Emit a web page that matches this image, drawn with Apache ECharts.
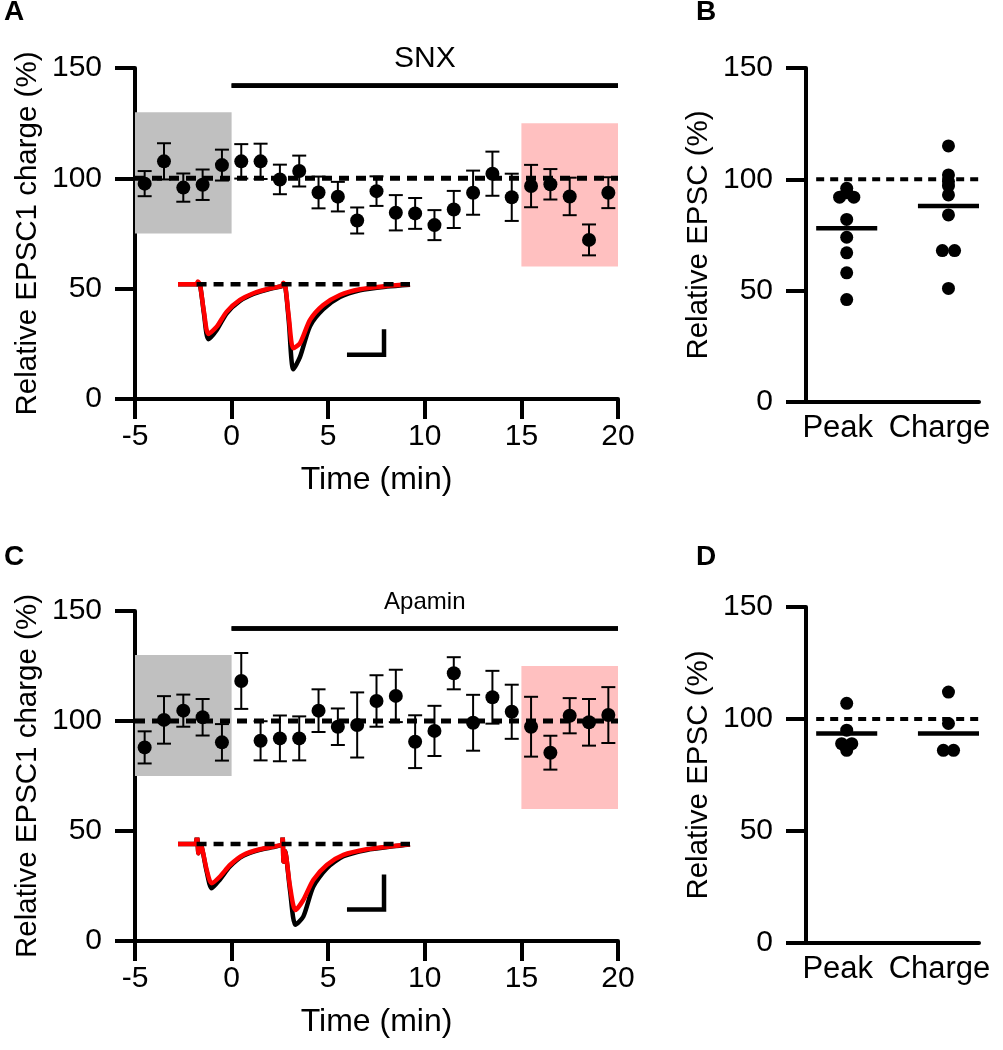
<!DOCTYPE html>
<html>
<head>
<meta charset="utf-8">
<script src="https://cdn.jsdelivr.net/npm/echarts@6/dist/echarts.min.js"></script>
<style>
html, body { margin: 0; background: #fff; }
#chart { width: 1003px; height: 1050px; }
</style>
</head>
<body>
<div id="chart"></div>
<script>
// time course (min), one point per minute
var timeMin = [-4.5, -3.5, -2.5, -1.5, -0.5, 0.5, 1.5, 2.5, 3.5, 4.5, 5.5, 6.5, 7.5,
               8.5, 9.5, 10.5, 11.5, 12.5, 13.5, 14.5, 15.5, 16.5, 17.5, 18.5, 19.5];
var snxMean = [97.6, 107.7, 95.8, 97.1, 106, 107.7, 107.7, 99.5, 103.3, 93.6, 91.7, 80.9, 94.2,
               84.4, 84.1, 78.8, 85.9, 93.5, 102.1, 91.4, 96.5, 97.3, 91.8, 72.1, 93.5];
var snxSem = [5.7, 8.2, 6.4, 6.9, 7, 7.8, 8, 6.7, 7, 7.2, 6.7, 5.9, 6.7,
              8, 7, 6.8, 8.4, 10, 10, 10.7, 9.6, 6.9, 8.5, 7, 7];
var apaMean = [88, 100.5, 104.7, 101.7, 90.3, 118.2, 91, 92.1, 92.1, 104.7, 97.4, 98.2, 109.1,
               111.4, 90.6, 95.5, 121.7, 99.2, 110.8, 104.2, 97.4, 85.6, 102.4, 99.4, 102.7];
var apaSem = [7.3, 10.8, 7.3, 8.3, 8.3, 12.7, 8.9, 10.4, 10, 9.7, 8.3, 14.8, 11.7,
              11.9, 12, 11.4, 7.3, 12.7, 12, 12.3, 13.6, 7.7, 8, 10.6, 12.7];

// shaded windows [tStart, tEnd, low, high] and drug bar [tStart, tEnd, level]
var baselineWin = [-5, 0, 75, 130];
var drugWin = [15, 20, 60, 125];
var drugBar = [0, 20, 142];
var xTicks = [-5, 20];

// scatter panels: individual cells, jitter in group units, group mean
var groupNames = ['Peak', 'Charge'];
var snxPeak = [96, 94, 92, 92, 82, 74, 67, 58, 46];
var snxPeakJit = [0, 0, -0.07, 0.07, 0, 0, 0, 0, 0];
var snxCharge = [115, 102, 99, 97, 93, 84, 68, 68, 51];
var snxChargeJit = [0, 0, 0, 0, 0, 0, -0.06, 0.06, 0];
var snxGroupMean = [78, 88];
var apaPeak = [107, 95, 89, 89, 86];
var apaPeakJit = [0, 0, -0.05, 0.05, 0];
var apaCharge = [112, 98, 86, 86];
var apaChargeJit = [0, 0, -0.05, 0.05];
var apaGroupMean = [93.5, 93.5];

// example traces (ms, normalised current), black = control, red = drug
var trTimeA = [0, 7.8, 8.6, 9.5, 11.2, 13.1, 16.7, 21.0, 26.7, 32.5, 39.7, 44.7, 45.4, 46.3,
               47.8, 49.7, 52.6, 56.9, 62.6, 69.8, 78.4, 90, 100];
var trRedA = [0, 0, 3.3, -0.8, -32.6, -58.5, -49.9, -32.2, -18.5, -10.6, -4.7, -2.0, 1.9, -3.2,
              -39.6, -75.3, -69.4, -42.0, -24.4, -12.6, -5.9, -2.0, 0];
var trBlackA = [0, 0, 0, -0.8, -35, -64.6, -53.8, -34.1, -19.7, -11.5, -5.3, -2.4, -1, -3.5,
                -45, -100, -85.5, -49.4, -29.4, -15.1, -7.2, -2.8, -0.5];
var trTimeC = [0, 7.3, 8.2, 8.8, 9.3, 10.2, 12.4, 14.5, 18.0, 22.4, 28.1, 35.3, 42.5, 44.8, 45.1,
               45.5, 46.1, 48.3, 50.6, 54.0, 58.3, 64.1, 71.3, 81.3, 92.8, 100];
var trRedC = [0, 0, 8.6, -10.9, -1.2, -3.2, -30.6, -46.2, -38.5, -24.7, -12.9, -6.2, -2.4, 0, 8.6,
              -20.8, -8.2, -50.2, -77.6, -65.9, -42.4, -24.7, -12.9, -6.2, -2.4, -0.4];
var trBlackC = [0, 0, 8.6, -10.9, -1.2, -3.2, -33, -52.1, -42, -26.5, -14, -6.8, -2.8, 0, 8.6,
                -20.8, -8.2, -55, -95, -85.4, -50.2, -28.6, -14.5, -7, -2.8, -0.6];
var baseStart = 8;
// scale bars: [t, i, dt, di]
var scaleA = [73.8, -83, 15, 27.4];
var scaleC = [73.8, -77, 15, 38.4];

var FONT = 'Liberation Sans, Arial, sans-serif';

function zip(xs, ys) { return xs.map(function (x, i) { return [x, ys[i]]; }); }

function timeX(g) {
  return {
    type: 'value', gridIndex: g, min: -5, max: 20, interval: 5,
    name: 'Time (min)', nameLocation: 'middle', nameGap: 65,
    nameTextStyle: { fontSize: 32, color: '#000', fontFamily: FONT },
    axisLine: { show: true, onZero: false, lineStyle: { color: '#000', width: 4 } },
    axisTick: { show: true, length: 20, lineStyle: { color: '#000', width: 4 } },
    axisLabel: { margin: 23, fontSize: 30, color: '#000', fontFamily: FONT },
    splitLine: { show: false }
  };
}
function groupX(g) {
  return {
    type: 'value', gridIndex: g, min: -0.4, max: 1.3,
    axisLine: { show: true, onZero: false, lineStyle: { color: '#000', width: 4 } },
    axisTick: { show: false },
    axisLabel: {
      customValues: [0, 1], margin: 11, fontSize: 31, color: '#000', fontFamily: FONT,
      padding: [0, 18, 0, 0],
      formatter: function (v) { return groupNames[Math.round(v)]; }
    },
    splitLine: { show: false }
  };
}
function pctY(g, name) {
  return {
    type: 'value', gridIndex: g, min: 0, max: 150, interval: 50,
    name: name, nameLocation: 'middle', nameGap: 92, nameRotate: 90,
    nameTextStyle: { fontSize: 29.5, color: '#000', fontFamily: FONT },
    axisLine: { show: true, onZero: false, lineStyle: { color: '#000', width: 4 } },
    axisTick: { show: true, length: 20, lineStyle: { color: '#000', width: 4 } },
    axisLabel: { margin: 33, fontSize: 30, color: '#000', fontFamily: FONT },
    splitLine: { show: false }
  };
}
function hidden(g, lo, hi) {
  return { type: 'value', gridIndex: g, min: lo, max: hi, show: false };
}

function boxSeries(ax, win, color) {
  return {
    type: 'custom', xAxisIndex: ax, yAxisIndex: ax, z: 1, silent: true,
    data: [win],
    renderItem: function (params, api) {
      var p0 = api.coord([api.value(0), api.value(3)]);
      var p1 = api.coord([api.value(1), api.value(2)]);
      return { type: 'rect', shape: { x: p0[0], y: p0[1], width: p1[0] - p0[0], height: p1[1] - p0[1] },
               style: { fill: color } };
    }
  };
}
function errSeries(ax, t, m, s) {
  return {
    type: 'custom', xAxisIndex: ax, yAxisIndex: ax, z: 3, silent: true,
    data: t.map(function (x, i) { return [x, m[i], s[i]]; }),
    renderItem: function (params, api) {
      var x = api.value(0), y = api.value(1), e = api.value(2);
      var hi = api.coord([x, y + e]), lo = api.coord([x, y - e]);
      var st = { stroke: '#000', lineWidth: 2 };
      return { type: 'group', children: [
        { type: 'line', shape: { x1: hi[0], y1: hi[1], x2: lo[0], y2: lo[1] }, style: st },
        { type: 'line', shape: { x1: hi[0] - 7, y1: hi[1], x2: hi[0] + 7, y2: hi[1] }, style: st },
        { type: 'line', shape: { x1: lo[0] - 7, y1: lo[1], x2: lo[0] + 7, y2: lo[1] }, style: st }
      ] };
    }
  };
}
function dotSeries(ax, data, size) {
  return {
    type: 'scatter', xAxisIndex: ax, yAxisIndex: ax, z: 4, silent: true,
    symbolSize: size, itemStyle: { color: '#000', opacity: 1 }, data: data
  };
}
function refLine(ax, x0, x1, width, dash) {
  return {
    type: 'line', xAxisIndex: ax, yAxisIndex: ax, z: 2, silent: true, symbol: 'none',
    data: [[x0, 100], [x1, 100]],
    lineStyle: { color: '#000', width: width, type: dash }
  };
}
function drugSeries(ax, label, size, dist) {
  return {
    type: 'line', xAxisIndex: ax, yAxisIndex: ax, z: 2, silent: true, symbol: 'none',
    data: [[drugBar[0], drugBar[2]], [drugBar[1], drugBar[2]]],
    lineStyle: { color: '#000', width: 4.5 },
    markLine: {
      silent: true, symbol: 'none', animation: false,
      lineStyle: { color: '#000', width: 4.5, type: 'solid' },
      label: { show: true, position: 'insideMiddleTop', distance: dist, formatter: label,
               fontSize: size, color: '#000', fontFamily: FONT },
      data: [[{ coord: [drugBar[0], drugBar[2]] }, { coord: [drugBar[1], drugBar[2]] }]]
    }
  };
}
function meanSeries(ax, means) {
  return {
    type: 'custom', xAxisIndex: ax, yAxisIndex: ax, z: 3, silent: true,
    data: means.map(function (v, i) { return [i, v]; }),
    renderItem: function (params, api) {
      var a = api.coord([api.value(0) - 0.3, api.value(1)]);
      var b = api.coord([api.value(0) + 0.3, api.value(1)]);
      return { type: 'line', shape: { x1: a[0], y1: a[1], x2: b[0], y2: b[1] },
               style: { stroke: '#000', lineWidth: 4.5 } };
    }
  };
}
function groupDots(peak, peakJit, charge, chargeJit) {
  var d = peak.map(function (v, i) { return [peakJit[i], v]; });
  return d.concat(charge.map(function (v, i) { return [1 + chargeJit[i], v]; }));
}
function traceSeries(ax, t, i, color, z) {
  return {
    type: 'line', xAxisIndex: ax, yAxisIndex: ax, z: z, silent: true, symbol: 'none',
    smooth: 0.25, data: zip(t, i), lineStyle: { color: color, width: 4.5 }
  };
}
function baseSeries(ax) {
  return {
    type: 'line', xAxisIndex: ax, yAxisIndex: ax, z: 7, silent: true, symbol: 'none',
    data: [[baseStart, 0], [100, 0]], lineStyle: { color: '#000', width: 4.5, type: [10, 7] }
  };
}
function scaleSeries(ax, s) {
  return {
    type: 'line', xAxisIndex: ax, yAxisIndex: ax, z: 7, silent: true, symbol: 'none',
    data: [[s[0], s[1]], [s[0] + s[2], s[1]], [s[0] + s[2], s[1] + s[3]]],
    lineStyle: { color: '#000', width: 4.5, cap: 'square', join: 'miter' }
  };
}
function letter(t, l, top) {
  return { text: t, left: l, top: top, padding: 0,
           textStyle: { fontSize: 28, fontWeight: 'bold', color: '#000', fontFamily: FONT } };
}

var chart = echarts.init(document.getElementById('chart'), null, { renderer: 'canvas' });
chart.setOption({
  animation: false,
  backgroundColor: '#fff',
  title: [letter('A', 4, -2), letter('B', 696, -2), letter('C', 4, 543), letter('D', 696, 543)],
  grid: [
    { left: 135, top: 68, width: 483, height: 331 },
    { left: 806, top: 68, width: 173, height: 334 },
    { left: 135, top: 611, width: 483, height: 330 },
    { left: 806, top: 607, width: 173, height: 336 },
    { left: 178, top: 280, width: 232, height: 97.75 },
    { left: 178, top: 839.75, width: 232, height: 97.75 }
  ],
  xAxis: [timeX(0), groupX(1), timeX(2), groupX(3), hidden(4, 0, 100), hidden(5, 0, 100)],
  yAxis: [
    pctY(0, 'Relative EPSC1 charge (%)'), pctY(1, 'Relative EPSC (%)'),
    pctY(2, 'Relative EPSC1 charge (%)'), pctY(3, 'Relative EPSC (%)'),
    hidden(4, -110, 5), hidden(5, -110, 5)
  ],
  series: [
    // A
    boxSeries(0, baselineWin, '#c0c0c0'),
    boxSeries(0, drugWin, '#ffc0c0'),
    refLine(0, xTicks[0], xTicks[1], 5, [10, 7]),
    drugSeries(0, 'SNX', 30, 12),
    errSeries(0, timeMin, snxMean, snxSem),
    dotSeries(0, zip(timeMin, snxMean), 14),
    // B
    refLine(1, -0.3, 1.3, 4, [8, 6]),
    meanSeries(1, snxGroupMean),
    dotSeries(1, groupDots(snxPeak, snxPeakJit, snxCharge, snxChargeJit), 13),
    // C
    boxSeries(2, baselineWin, '#c0c0c0'),
    boxSeries(2, drugWin, '#ffc0c0'),
    refLine(2, xTicks[0], xTicks[1], 5, [10, 7]),
    drugSeries(2, 'Apamin', 24, 14),
    errSeries(2, timeMin, apaMean, apaSem),
    dotSeries(2, zip(timeMin, apaMean), 14),
    // D
    refLine(3, -0.3, 1.3, 4, [8, 6]),
    meanSeries(3, apaGroupMean),
    dotSeries(3, groupDots(apaPeak, apaPeakJit, apaCharge, apaChargeJit), 13),
    // insets
    traceSeries(4, trTimeA, trBlackA, '#000', 5),
    traceSeries(4, trTimeA, trRedA, '#ff0000', 6),
    baseSeries(4),
    scaleSeries(4, scaleA),
    traceSeries(5, trTimeC, trBlackC, '#000', 5),
    traceSeries(5, trTimeC, trRedC, '#ff0000', 6),
    baseSeries(5),
    scaleSeries(5, scaleC)
  ]
});
</script>
</body>
</html>
